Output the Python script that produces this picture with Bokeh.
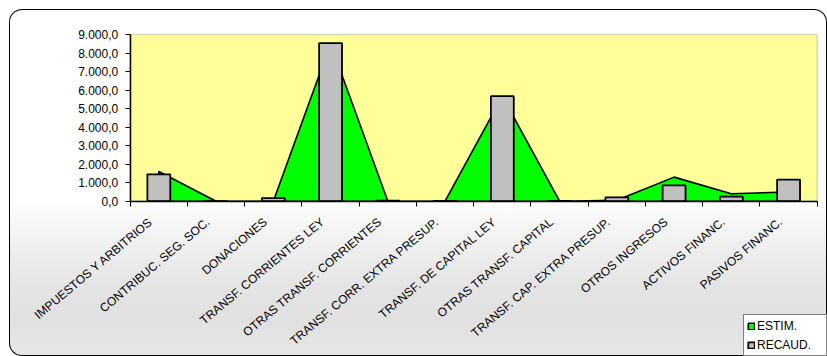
from bokeh.plotting import figure
from bokeh.models import (Range1d, FixedTicker, Legend, LegendItem, ColumnDataSource, BoxAnnotation)
from bokeh.core.properties import value
from bokeh.embed import file_html
from bokeh.resources import INLINE

categories = [
    "IMPUESTOS Y ARBITRIOS",
    "CONTRIBUC. SEG. SOC.",
    "DONACIONES",
    "TRANSF. CORRIENTES LEY",
    "OTRAS TRANSF. CORRIENTES",
    "TRANSF. CORR. EXTRA PRESUP.",
    "TRANSF. DE CAPITAL LEY",
    "OTRAS TRANSF. CAPITAL",
    "TRANSF. CAP. EXTRA PRESUP.",
    "OTROS INGRESOS",
    "ACTIVOS FINANC.",
    "PASIVOS FINANC.",
]
estim = [1600, 0, 0, 8500, 0, 0, 5660, 0, 50, 1300, 400, 500]
recaud = [1450, 0, 170, 8530, 30, 20, 5670, 10, 210, 850, 250, 1170]
y_ticks = [0, 1000, 2000, 3000, 4000, 5000, 6000, 7000, 8000, 9000]
y_tick_labels = ["0,0", "1.000,0", "2.000,0", "3.000,0", "4.000,0",
                 "5.000,0", "6.000,0", "7.000,0", "8.000,0", "9.000,0"]
y_max = 9000

# layout (pixels inside the figure; the plot frame fills the whole figure)
W, H = 818, 347
PLOT_L, PLOT_R, PLOT_T, PLOT_B = 120.7, 807.7, 25.0, 191.7

n = len(categories)
px_x = (PLOT_R - PLOT_L) / n
px_y = (PLOT_B - PLOT_T) / y_max
x_start, x_end = -PLOT_L / px_x, n + (W - PLOT_R) / px_x
y_start, y_end = -(H - PLOT_B) / px_y, y_max + PLOT_T / px_y

xc = [i + 0.5 for i in range(n)]
boundaries = list(range(n + 1))

p = figure(width=W, height=H, output_backend="svg", toolbar_location=None,
           x_range=Range1d(x_start, x_end), y_range=Range1d(y_start, y_end),
           min_border=0)

p.background_fill_alpha = 0
p.border_fill_alpha = 0
p.outline_line_color = None
p.styles = {
    "margin-left": "9px",
    "margin-top": "9px",
    "background": "linear-gradient(to bottom, #ffffff 0%, #ffffff 55%, #f6f6f6 62%, #e4e4e4 80%, #e1e1e1 90%, #e6e6e6 100%)",
    "border-radius": "13px",
    "box-shadow": "inset 0 0 0 1px #000000",
}
p.xgrid.visible = False
p.ygrid.visible = False

# yellow plot area
p.add_layout(BoxAnnotation(left=0, right=n, bottom=0, top=y_max, level="underlay",
                           fill_color="#FFFF99", fill_alpha=1,
                           line_color="#808080", line_width=1.5))

# ESTIM area
area_x = [xc[0]] + xc + [xc[-1]]
area_y = [0] + estim + [0]
r_area = p.patch(area_x, area_y, fill_color="#00FF00", line_color="black", line_width=1.6)

# RECAUD bars
src = ColumnDataSource(dict(x=xc, top=recaud))
r_bar = p.vbar(x="x", top="top", width=0.4, source=src, fill_color="#C0C0C0",
               line_color="black", line_width=1.8)

# category labels
lab = ColumnDataSource(dict(x=xc, y=[0] * n, text=categories))
p.text(x="x", y="y", text="text", source=lab, angle=0.70,
       x_offset=-8, y_offset=19, text_align="right", text_baseline="middle",
       text_font=value("Liberation Sans"), text_font_size="12px", text_color="black")

# value labels
ylab = ColumnDataSource(dict(x=[0] * len(y_ticks), y=y_ticks, text=y_tick_labels))
p.text(x="x", y="y", text="text", source=ylab, x_offset=-12,
       text_align="right", text_baseline="middle",
       text_font=value("Liberation Sans"), text_font_size="12px", text_color="black")

# y axis line with ticks
ya = p.yaxis[0]
ya.fixed_location = 0
ya.bounds = (0, y_max)
ya.ticker = FixedTicker(ticks=[], minor_ticks=y_ticks)
ya.major_tick_out = 0
ya.major_tick_in = 0
ya.minor_tick_out = 5
ya.minor_tick_in = 0
ya.minor_tick_line_color = "black"
ya.minor_tick_line_width = 1
ya.axis_line_color = "black"
ya.axis_line_width = 1.5
ya.major_label_standoff = 0

# x axis line with ticks on category boundaries
xa = p.xaxis[0]
xa.fixed_location = 0
xa.bounds = (0, n)
xa.ticker = FixedTicker(ticks=[], minor_ticks=boundaries)
xa.major_tick_out = 0
xa.major_tick_in = 0
xa.minor_tick_out = 5
xa.minor_tick_in = 0
xa.minor_tick_line_color = "black"
xa.minor_tick_line_width = 1
xa.axis_line_color = "black"
xa.axis_line_width = 1.5
xa.major_label_standoff = 0

legend = Legend(items=[LegendItem(label="ESTIM.", renderers=[r_area]),
                       LegendItem(label="RECAUD.", renderers=[r_bar])],
                location="bottom_right")
legend.border_line_color = "black"
legend.border_line_width = 1
legend.background_fill_color = "white"
legend.background_fill_alpha = 1
legend.glyph_width = 8
legend.glyph_height = 8
legend.label_standoff = 2
legend.label_height = 15
legend.label_width = 66
legend.label_text_font = "Liberation Sans"
legend.label_text_font_size = "12px"
legend.label_text_color = "black"
legend.spacing = 4
legend.padding = 3
legend.margin = 0
p.add_layout(legend, "center")

open("out.html", "w").write(file_html(p, INLINE))
